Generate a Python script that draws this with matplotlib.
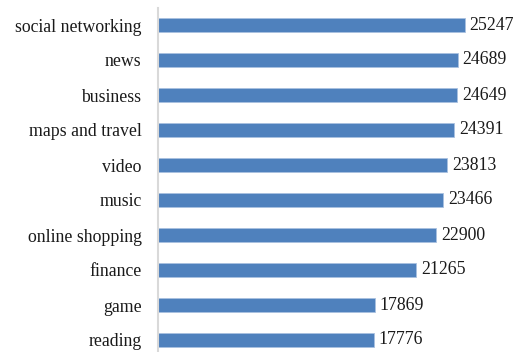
import matplotlib

matplotlib.use('Agg')
import matplotlib.pyplot as plt

categories = ['social networking', 'news', 'business', 'maps and travel', 'video',
              'music', 'online shopping', 'finance', 'game', 'reading']
counts = [25247, 24689, 24649, 24391, 23813, 23466, 22900, 21265, 17869, 17776]

BAR = '#4f81bd'
EDGE = '#a9c1e0'
AXIS = '#d9d9d9'
W, H = 524, 352

plt.rcParams['font.family'] = ['Liberation Serif', 'DejaVu Serif']

fig = plt.figure(figsize=(W / 100, H / 100), dpi=100)
# plot area runs a little past the bottom edge of the canvas
left, right, top, bottom = 157.5, 522.5, 7.5, 357.5
ax = fig.add_axes([left / W, 1 - bottom / H, (right - left) / W, (bottom - top) / H])

ys = list(range(len(categories)))
bars = ax.barh(ys, counts, height=0.4, color=BAR, edgecolor=EDGE, linewidth=0.6)
ax.bar_label(bars, labels=[str(c) for c in counts], padding=3.5, fontsize=12.8, color='#1a1a1a')

ax.set_yticks(ys)
ax.set_yticklabels(categories, fontsize=12.8, color='#1a1a1a')
ax.set_ylim(len(categories) - 0.5, -0.5)
ax.set_xlim(0, 30000)
ax.set_xticks([])
ax.tick_params(axis='y', length=0, pad=11.5)

for side in ('top', 'right', 'bottom'):
    ax.spines[side].set_visible(False)
ax.spines['left'].set_color(AXIS)
ax.spines['left'].set_linewidth(1.5)

fig.savefig('out.png', dpi=100, facecolor='white')
